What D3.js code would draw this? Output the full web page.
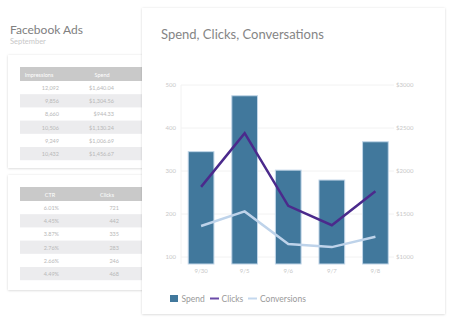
<!DOCTYPE html>
<html><head><meta charset="utf-8">
<script src="https://cdn.jsdelivr.net/npm/d3@7"></script>
<style>
html,body{margin:0;padding:0;background:#fff;}
svg{display:block;font-family:Lato,"Open Sans",sans-serif;}
</style></head>
<body><svg id="c" width="456" height="327"></svg>
<script>
// ---- data ----
const categories = ["9/30", "9/5", "9/6", "9/7", "9/8"];
const spend = [2225, 2875, 2010, 1895, 2340];
const clicks = [263, 388, 219, 174, 253];
const conversions = [172, 206, 130, 123, 147];
const leftTicks = [100, 200, 300, 400, 500];
const rightTicks = [1000, 1500, 2000, 2500, 3000];
const table1Header = ["Impressions", "Spend"];
const impressions = ["12,092", "9,856", "8,660", "10,506", "9,249", "10,432"];
const spendTable = ["$1,640.04", "$1,304.56", "$944.33", "$1,130.24", "$1,006.69", "$1,456.67"];
const table2Header = ["CTR", "Clicks"];
const ctr = ["6.01%", "4.45%", "3.87%", "2.76%", "2.66%", "4.49%"];
const clicksTable = ["721", "442", "335", "283", "246", "468"];

const svg = d3.select("#c");
const defs = svg.append("defs");
const f = defs.append("filter").attr("id","sh").attr("x","-5%").attr("y","-5%").attr("width","110%").attr("height","110%");
f.append("feDropShadow").attr("dx",0).attr("dy",0.5).attr("stdDeviation",1).attr("flood-color","#000").attr("flood-opacity",0.18);

// ---- background page ----
svg.append("text").attr("x",10).attr("y",34).attr("font-size",12).attr("fill","#808080").text("Facebook Ads");
svg.append("text").attr("x",10).attr("y",44).attr("font-size",7.5).attr("fill","#c8c8c8").text("September");

function card(y, h, header, c1, c2, x1r, x2r, hx1, hx2, hy) {
  svg.append("rect").attr("x",8).attr("y",y).attr("width",150).attr("height",h).attr("fill","#fff").attr("filter","url(#sh)");
  svg.append("rect").attr("x",20).attr("y",hy).attr("width",135).attr("height",14).attr("fill","#c9c9c9");
  svg.append("text").attr("x",hx1).attr("y",hy+9.5).attr("text-anchor","middle").attr("font-size",5.5).attr("fill","#fff").text(header[0]);
  svg.append("text").attr("x",hx2).attr("y",hy+9.5).attr("text-anchor","middle").attr("font-size",5.5).attr("fill","#fff").text(header[1]);
  const rh = 13.2;
  c1.forEach((v,i)=>{
    const ry = hy+14+i*rh;
    if (i%2===1) svg.append("rect").attr("x",20).attr("y",ry).attr("width",135).attr("height",rh).attr("fill","#ececee");
    svg.append("text").attr("x",x1r).attr("y",ry+9).attr("text-anchor","end").attr("font-size",5.5).attr("fill","#b8b8b8").text(v);
    svg.append("text").attr("x",x2r).attr("y",ry+9).attr("text-anchor","end").attr("font-size",5.5).attr("fill","#b8b8b8").text(c2[i]);
  });
}
card(55, 113, table1Header, impressions, spendTable, 59, 114, 39, 102, 67);
card(175, 115, table2Header, ctr, clicksTable, 59, 119, 50, 107, 187);

// ---- main card ----
svg.append("rect").attr("x",142).attr("y",8).attr("width",303).attr("height",306).attr("fill","#fff").attr("filter","url(#sh)");
svg.append("text").attr("x",161).attr("y",39).attr("font-size",13).attr("fill","#858585").text("Spend, Clicks, Conversations");

const plotL = 181, plotR = 394, plotT = 85, plotB = 264;
const x = d3.scaleBand().domain(categories).range([179.5, 397]).paddingInner(0.41).paddingOuter(0.2);
const yL = d3.scaleLinear().domain([100, 500]).range([257, 85]);
const yR = d3.scaleLinear().domain([1000, 3000]).range([257, 85]);

// grid
svg.append("g").selectAll("line").data(leftTicks).join("line")
  .attr("x1",plotL).attr("x2",plotR).attr("y1",d=>yL(d)).attr("y2",d=>yL(d))
  .attr("stroke","#f2f2f2").attr("stroke-width",1);
svg.append("line").attr("x1",plotL).attr("x2",plotL).attr("y1",plotT).attr("y2",plotB).attr("stroke","#f2f2f2");

// axes
const axL = svg.append("g").attr("transform",`translate(${176},0)`)
  .call(d3.axisLeft(yL).tickValues(leftTicks).tickSize(0).tickPadding(0));
axL.select(".domain").remove();
axL.selectAll("text").attr("font-size",6).attr("fill","#c8c8c8").attr("font-family","Lato,sans-serif").attr("text-anchor","end");

const axR = svg.append("g").attr("transform",`translate(${396},0)`)
  .call(d3.axisRight(yR).tickValues(rightTicks).tickSize(0).tickPadding(0).tickFormat(d=>"$"+d));
axR.select(".domain").remove();
axR.selectAll("text").attr("font-size",6).attr("fill","#c8c8c8").attr("font-family","Lato,sans-serif");

const axB = svg.append("g").attr("transform",`translate(0,${269})`)
  .call(d3.axisBottom(x).tickSize(0).tickPadding(0));
axB.select(".domain").remove();
axB.selectAll("text").attr("font-size",6).attr("fill","#c8c8c8").attr("font-family","Lato,sans-serif").attr("dy","0.71em");

// bars
svg.append("g").selectAll("rect").data(spend).join("rect")
  .attr("x",(d,i)=>x(categories[i])).attr("width",x.bandwidth())
  .attr("y",d=>yR(d)).attr("height",d=>plotB-yR(d))
  .attr("fill","#41789c").attr("stroke","#c2d6e8").attr("stroke-width",1);

// lines
const cx = (d,i)=>x(categories[i])+x.bandwidth()/2;
const lineL = d3.line().x(cx).y(d=>yL(d));
svg.append("path").datum(conversions).attr("d",lineL).attr("fill","none").attr("stroke","#bed3ea").attr("stroke-width",2.5);
svg.append("path").datum(clicks).attr("d",lineL).attr("fill","none").attr("stroke","#4b2a8c").attr("stroke-width",2.5);

// legend
const lg = svg.append("g").attr("font-size",8.5);
lg.append("rect").attr("x",170).attr("y",295).attr("width",8).attr("height",7).attr("fill","#41789c");
lg.append("text").attr("x",181.5).attr("y",301.5).attr("fill","#9a9a9a").text("Spend");
lg.append("line").attr("x1",210).attr("x2",219).attr("y1",298.5).attr("y2",298.5).attr("stroke","#6a4aa8").attr("stroke-width",2);
lg.append("text").attr("x",221.5).attr("y",301.5).attr("fill","#9a9a9a").text("Clicks");
lg.append("line").attr("x1",248).attr("x2",257).attr("y1",298.5).attr("y2",298.5).attr("stroke","#c4d8ee").attr("stroke-width",2);
lg.append("text").attr("x",260).attr("y",301.5).attr("fill","#9a9a9a").text("Conversions");
</script></body></html>
